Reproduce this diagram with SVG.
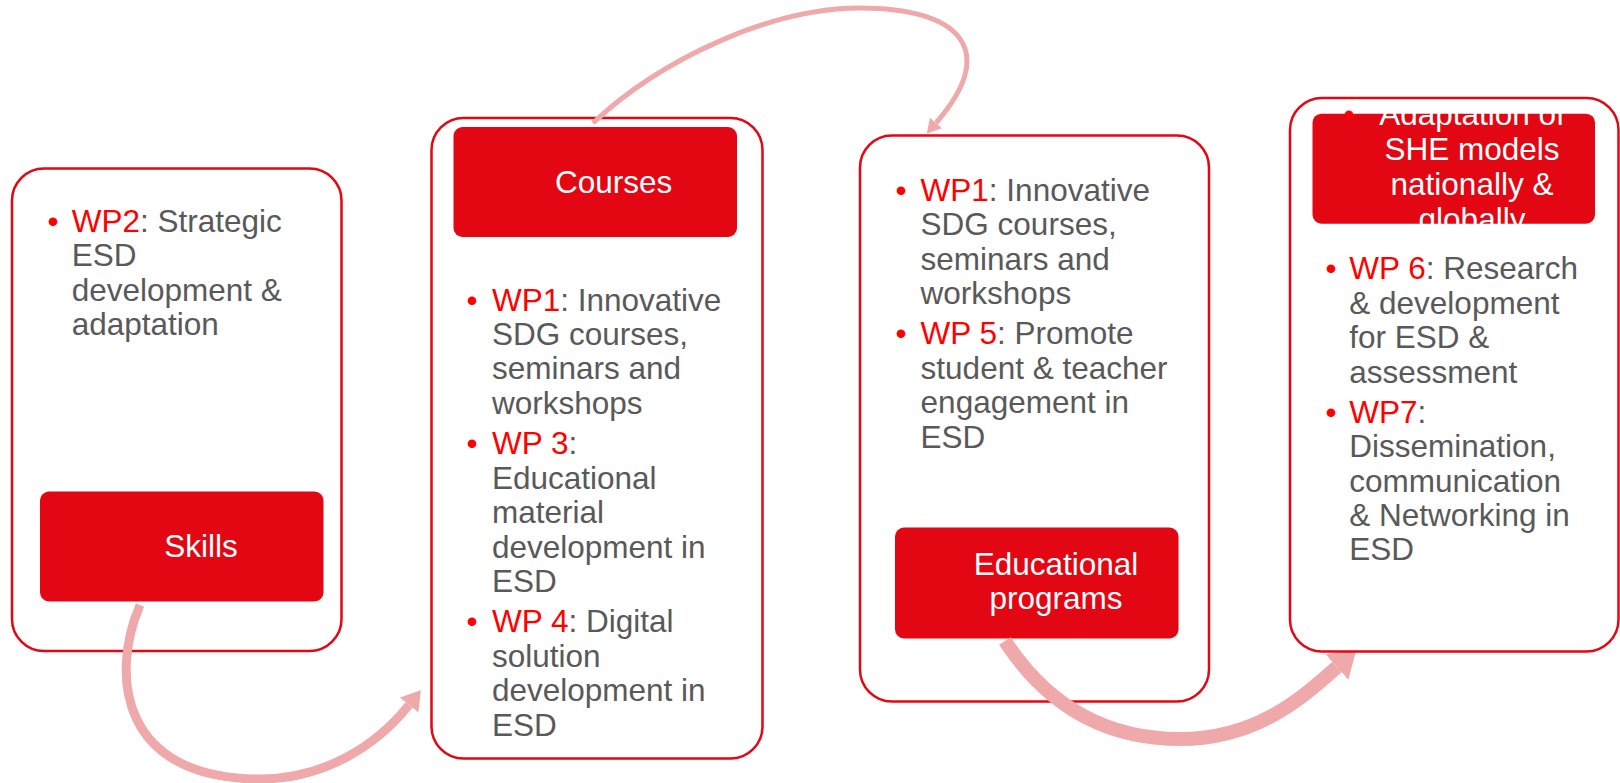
<svg xmlns="http://www.w3.org/2000/svg" width="1620" height="783" viewBox="0 0 1620 783">
<style>
.outer{fill:#FFFFFF;stroke:#E30613;stroke-width:2.5}
.inner{fill:#E30613}
.t{font-family:"Liberation Sans",Arial,sans-serif;font-size:31.5px;fill:#595959}
.lbl{font-family:"Liberation Sans",Arial,sans-serif;font-size:31.5px;fill:#FFFFFF;text-anchor:middle}
.r{fill:#FF0000}
.b{font-family:"Liberation Sans",Arial,sans-serif;font-size:31.5px;fill:#FF0000;text-anchor:middle}
.arc{fill:none;stroke:#EFA9AA}
</style>
<defs>
<marker id="ahThin" markerUnits="userSpaceOnUse" markerWidth="14" markerHeight="16" refX="0" refY="8" orient="auto"><path d="M0,0 L14,8 L0,16 z" fill="#EFA9AA"/></marker>
<marker id="ahMid" markerUnits="userSpaceOnUse" markerWidth="19" markerHeight="24" refX="0" refY="12" orient="auto"><path d="M0,0 L19,12 L0,24 z" fill="#EFA9AA"/></marker>
<marker id="ahThick" markerUnits="userSpaceOnUse" markerWidth="26" markerHeight="34" refX="0" refY="17" orient="auto"><path d="M0,0 L26,17 L0,34 z" fill="#EFA9AA"/></marker>
</defs>

<g id="node-skills">
<rect class="outer" x="12" y="168.5" width="329.5" height="482.5" rx="32"/>
<rect class="inner" x="40" y="491.5" width="283.5" height="110" rx="9"/>
<text class="lbl" x="201" y="556.7">Skills</text>
<text class="b" x="53" y="231.5">•</text>
<text class="t" x="71.7" y="231.5"><tspan class="r">WP2</tspan>: Strategic</text>
<text class="t" x="71.7" y="266">ESD</text>
<text class="t" x="71.7" y="300.5">development &amp;</text>
<text class="t" x="71.7" y="335">adaptation</text>
</g>

<g id="node-courses">
<rect class="outer" x="431.5" y="118" width="331" height="640.5" rx="32"/>
<rect class="inner" x="453.5" y="127" width="283.5" height="110" rx="9"/>
<text class="lbl" x="613.7" y="192.5">Courses</text>
<text class="b" x="472" y="311">•</text>
<text class="t" x="492" y="311"><tspan class="r">WP1</tspan>: Innovative</text>
<text class="t" x="492" y="345">SDG courses,</text>
<text class="t" x="492" y="379">seminars and</text>
<text class="t" x="492" y="413.5">workshops</text>
<text class="b" x="472" y="454">•</text>
<text class="t" x="492" y="454"><tspan class="r">WP 3</tspan>:</text>
<text class="t" x="492" y="488.5">Educational</text>
<text class="t" x="492" y="523">material</text>
<text class="t" x="492" y="557.5">development in</text>
<text class="t" x="492" y="592">ESD</text>
<text class="b" x="472" y="632">•</text>
<text class="t" x="492" y="632"><tspan class="r">WP 4</tspan>: Digital</text>
<text class="t" x="492" y="666.5">solution</text>
<text class="t" x="492" y="701">development in</text>
<text class="t" x="492" y="735.5">ESD</text>
</g>

<g id="node-programs">
<rect class="outer" x="860" y="135.5" width="349" height="566" rx="32"/>
<rect class="inner" x="895" y="527.5" width="283.5" height="111" rx="9"/>
<text class="lbl" x="1056" y="575">Educational</text>
<text class="lbl" x="1056" y="608.5">programs</text>
<text class="b" x="901" y="200.6">•</text>
<text class="t" x="920.6" y="200.6"><tspan class="r">WP1</tspan>: Innovative</text>
<text class="t" x="920.6" y="235">SDG courses,</text>
<text class="t" x="920.6" y="269.5">seminars and</text>
<text class="t" x="920.6" y="304">workshops</text>
<text class="b" x="901" y="344">•</text>
<text class="t" x="920.6" y="344"><tspan class="r">WP 5</tspan>: Promote</text>
<text class="t" x="920.6" y="378.5">student &amp; teacher</text>
<text class="t" x="920.6" y="413">engagement in</text>
<text class="t" x="920.6" y="447.5">ESD</text>
</g>

<g id="connectors">
<path class="arc" stroke-width="5" d="M 593 123 C 660 60, 770 8, 860 8 C 960 8, 1000 50, 936 123" marker-end="url(#ahThin)"/>
<path class="arc" stroke-width="9" d="M 140 605 C 110 675, 120 779, 260 779 C 325 779, 377 745, 409 705" marker-end="url(#ahMid)"/>
<path class="arc" stroke-width="14" d="M 1005 641 C 1050 710, 1110 739, 1180 739 C 1255 739, 1300 700, 1337 667" marker-end="url(#ahThick)"/>
</g>

<g id="node-adaptation">
<rect class="outer" x="1290" y="98" width="328.5" height="553.5" rx="32"/>
<rect class="inner" x="1312.5" y="113.7" width="282.5" height="110" rx="9"/>
<text class="b" x="1349" y="125.3">•</text>
<text class="lbl" x="1472" y="125.3">Adaptation of</text>
<text class="lbl" x="1472" y="160.3">SHE models</text>
<text class="lbl" x="1472" y="195.3">nationally &amp;</text>
<text class="lbl" x="1472" y="230">globally</text>
<text class="b" x="1331" y="279.3">•</text>
<text class="t" x="1349.3" y="279.3"><tspan class="r">WP 6</tspan>: Research</text>
<text class="t" x="1349.3" y="313.7">&amp; development</text>
<text class="t" x="1349.3" y="348.1">for ESD &amp;</text>
<text class="t" x="1349.3" y="382.5">assessment</text>
<text class="b" x="1331" y="422.7">•</text>
<text class="t" x="1349.3" y="422.7"><tspan class="r">WP7</tspan>:</text>
<text class="t" x="1349.3" y="457.1">Dissemination,</text>
<text class="t" x="1349.3" y="491.5">communication</text>
<text class="t" x="1349.3" y="525.9">&amp; Networking in</text>
<text class="t" x="1349.3" y="560.3">ESD</text>
</g>
</svg>
